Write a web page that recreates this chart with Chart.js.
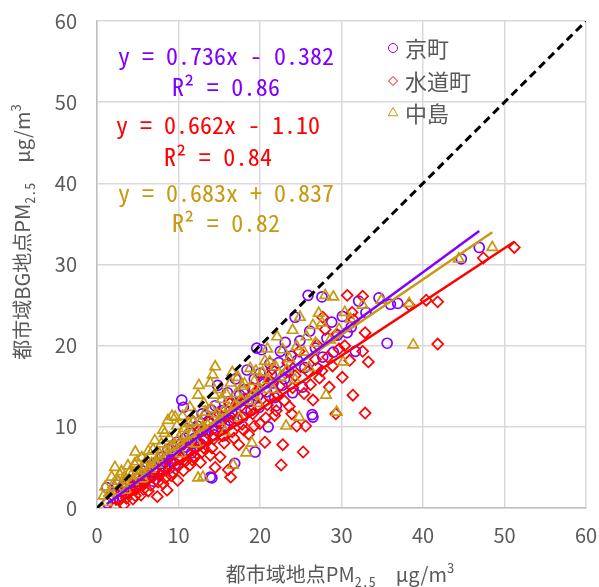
<!DOCTYPE html>
<html><head><meta charset="utf-8">
<script src="https://cdn.jsdelivr.net/npm/chart.js@4.4.1/dist/chart.umd.min.js"></script>
<style>html,body{margin:0;padding:0;background:#fff;}#wrap{width:599px;height:587px;}</style>
</head><body><div id="wrap"><canvas id="c" width="599" height="587"></canvas></div>
<script>
// PM2.5 at urban sites (x) vs. urban background site (y), µg/m³
const seriesNames = ['京町', '水道町', '中島'];
const seriesColors = ['#8000FF', '#FF0000', '#C8980F'];
const seriesStyles = ['circle', 'rectRot', 'triangle'];

const kyomachi = [
  [1.2,2.5],[1.3,0.6],[2.0,1.2],[2.5,2.8],[3.0,1.5],[3.4,2.4],[3.8,3.5],[4.2,2.2],[4.6,3.1],[5.0,4.2],
  [5.3,2.9],[5.8,3.8],[6.1,5.0],[6.5,4.1],[6.9,3.3],[7.2,5.6],[7.6,4.8],[8.0,6.3],[8.3,5.1],[8.7,7.2],
  [9.0,5.8],[9.4,6.7],[9.8,8.1],[10.1,6.2],[10.4,13.3],[10.6,12.4],[10.9,7.5],[11.3,9.2],[11.6,6.8],[12.0,8.6],
  [12.3,10.1],[12.7,7.9],[13.0,9.5],[13.4,11.4],[13.9,3.8],[14.1,3.7],[14.2,9.8],[14.5,12.6],[14.8,15.1],[15.1,10.4],
  [15.5,8.9],[15.8,11.9],[16.0,14.2],[16.3,10.8],[16.9,5.5],[17.1,12.7],[17.5,13.9],[17.9,11.2],[18.4,17.0],[18.6,13.1],
  [19.0,14.8],[19.4,6.9],[19.6,19.7],[19.9,12.4],[20.2,19.5],[20.5,15.3],[21.0,10.0],[21.4,16.4],[21.8,13.6],[22.3,17.9],
  [22.7,15.1],[23.1,20.4],[23.5,16.8],[24.3,23.5],[24.6,18.2],[25.2,14.9],[25.9,26.2],[26.4,11.5],[26.5,11.2],[26.8,19.7],
  [27.6,26.0],[27.7,18.6],[28.8,22.9],[29.5,21.3],[30.7,21.6],[31.7,19.3],[33.0,24.1],[34.6,25.9],[35.6,20.3],[36.0,25.1],
  [36.9,25.2],[44.7,30.7],[46.9,32.1],
  [2.3,1.9],[3.1,2.6],[3.6,1.9],[4.1,3.4],[4.8,2.6],[5.5,4.6],[6.0,3.5],[6.7,5.3],[7.0,4.4],[7.9,5.5],
  [8.5,6.1],[8.9,4.9],[9.2,7.5],[9.6,5.4],[10.3,7.9],[10.8,8.6],[11.1,7.0],[11.5,10.8],[11.9,8.0],[12.5,9.4],
  [12.9,11.6],[13.3,8.5],[13.7,10.6],[14.0,12.1],[14.4,9.0],[14.7,11.3],[15.3,12.0],[15.7,10.2],[16.2,13.1],[16.6,11.6],
  [17.0,15.9],[17.3,10.9],[17.7,13.2],[18.1,14.6],[18.9,12.0],[19.3,15.9],[19.7,13.8],[20.0,16.6],[20.8,14.3],[21.2,17.8],
  [21.6,15.4],[22.0,12.6],[22.5,19.3],[23.0,15.9],[23.8,18.7],[24.0,14.2],[24.9,20.6],[25.5,17.3],[26.1,21.8],[27.0,17.2],
  [28.2,20.9],[29.0,19.2],[30.1,23.6],[31.2,22.3],[32.1,25.5]
];
const suidocho = [
  [2.2,0.1],[2.8,1.0],[3.3,0.4],[3.9,1.8],[4.4,1.1],[4.9,2.4],[5.4,1.6],[5.9,3.2],[6.3,2.1],[6.8,3.8],
  [7.4,1.4],[7.7,4.1],[8.1,3.0],[8.6,2.2],[8.9,5.3],[9.3,4.4],[9.9,3.4],[10.2,5.9],[10.6,4.6],[11.0,7.0],
  [11.4,5.3],[11.9,6.4],[12.3,8.2],[12.7,5.6],[13.1,7.4],[13.5,9.3],[13.9,6.5],[14.3,8.5],[14.5,5.0],[14.8,10.4],
  [15.1,6.3],[15.4,8.9],[15.8,11.2],[16.1,4.7],[16.4,3.8],[16.6,9.4],[17.0,12.0],[17.4,7.8],[17.8,10.3],[18.2,13.4],
  [18.6,9.1],[19.1,11.6],[19.5,14.3],[20.0,10.4],[20.6,8.1],[20.9,12.7],[21.3,15.6],[21.8,11.4],[22.2,13.9],[22.6,5.3],
  [22.8,7.8],[23.1,16.6],[23.6,12.5],[24.0,14.8],[24.5,10.1],[25.0,17.4],[25.3,6.9],[25.6,10.1],[26.2,15.2],[26.8,18.3],
  [27.3,16.0],[27.7,23.5],[28.3,18.6],[28.5,14.9],[29.3,11.6],[29.7,19.6],[30.1,16.1],[30.7,26.2],[31.3,24.1],[31.4,13.9],
  [31.5,23.2],[32.6,26.1],[32.6,19.3],[32.9,21.6],[32.9,11.7],[33.3,18.0],[38.3,25.0],[40.4,25.6],[41.8,25.4],[41.8,20.2],
  [47.4,30.8],[51.2,32.1],
  [3.0,2.0],[3.6,1.2],[4.2,2.6],[4.7,1.5],[5.2,3.3],[5.7,2.3],[6.1,3.9],[6.6,2.8],[7.1,4.6],[7.5,3.2],
  [8.0,5.2],[8.4,3.7],[8.8,6.3],[9.1,4.0],[9.6,6.9],[10.0,5.2],[10.4,7.6],[10.9,5.8],[11.2,8.3],[11.7,5.9],
  [12.1,7.3],[12.5,9.5],[12.9,6.9],[13.3,8.6],[13.7,10.6],[14.1,7.4],[14.6,9.7],[15.0,11.6],[15.6,8.0],[16.0,10.4],
  [16.3,12.9],[16.8,8.6],[17.2,11.0],[17.6,13.1],[18.0,9.6],[18.4,11.9],[18.9,14.9],[19.3,10.1],[19.8,12.6],[20.3,15.7],
  [20.7,11.1],[21.1,13.7],[21.5,17.1],[22.0,12.0],[22.4,15.0],[23.0,13.2],[23.4,17.9],[23.9,11.6],[24.3,16.3],[24.8,19.3],
  [25.4,14.1],[25.9,16.8],[26.5,13.3],[27.0,20.1],[27.6,16.9],[28.0,22.0],[28.9,17.5],[29.4,21.4],[30.4,20.0],[31.0,18.2]
];
const nakajima = [
  [0.8,1.5],[1.2,0.7],[1.8,3.8],[2.2,5.0],[2.5,2.1],[2.8,4.1],[3.2,3.0],[3.6,2.2],[4.0,4.4],[4.4,3.3],
  [4.7,6.9],[4.9,5.7],[5.3,4.6],[5.7,3.6],[6.1,5.9],[6.5,4.8],[6.9,7.2],[7.3,5.4],[7.7,6.6],[8.1,9.6],
  [8.3,9.2],[8.7,10.8],[9.0,7.4],[9.2,11.3],[9.6,11.2],[9.9,8.3],[10.3,6.7],[10.7,9.8],[11.1,8.0],[11.4,12.4],
  [11.8,10.6],[12.2,7.9],[12.4,13.9],[12.4,3.7],[12.5,15.1],[12.9,9.9],[13.0,3.8],[13.3,11.8],[13.9,15.4],[14.2,16.4],
  [14.5,17.4],[14.9,10.7],[15.3,13.4],[15.7,9.4],[16.2,12.3],[16.6,16.7],[16.7,5.3],[17.1,14.1],[17.5,11.1],[17.8,15.0],
  [18.3,6.8],[18.5,13.2],[19.0,8.0],[19.3,15.6],[19.8,12.9],[20.3,16.7],[20.9,19.6],[21.2,18.0],[21.6,14.6],[22.1,21.1],
  [22.5,16.1],[23.2,10.1],[23.6,18.4],[24.0,21.9],[24.3,15.8],[24.8,11.2],[24.9,23.5],[25.4,19.2],[26.0,17.3],[26.5,22.5],
  [27.2,24.0],[28.0,26.2],[28.1,13.9],[28.6,20.7],[29.0,26.0],[29.4,11.8],[30.2,18.0],[30.4,24.1],[32.6,25.0],[34.9,25.6],
  [38.3,25.2],[38.8,20.1],[44.4,30.7],[48.5,32.1],
  [1.0,2.6],[1.5,1.8],[2.0,2.9],[2.6,3.3],[3.0,4.5],[3.4,3.8],[3.8,5.2],[4.2,4.0],[4.6,5.4],[5.1,4.1],
  [5.5,6.2],[5.9,5.1],[6.3,7.0],[6.7,5.5],[7.1,8.3],[7.5,6.1],[7.9,7.9],[8.5,7.1],[8.9,8.6],[9.4,7.6],
  [9.8,10.1],[10.1,8.7],[10.5,11.3],[10.9,8.9],[11.3,10.4],[11.6,9.1],[12.0,11.5],[12.7,10.6],[13.1,12.9],[13.6,10.2],
  [14.0,12.2],[14.4,13.9],[14.7,11.6],[15.1,14.6],[15.5,11.9],[15.9,14.0],[16.4,15.4],[16.9,12.6],[17.3,16.1],[17.7,13.4],
  [18.1,15.3],[18.8,17.2],[19.1,13.9],[19.5,16.9],[20.0,14.6],[20.6,18.1],[21.0,15.8],[21.9,17.4],[22.8,19.5],[23.3,17.0],
  [24.5,19.9],[25.7,21.1],[26.8,20.3],[27.6,22.8],[29.7,22.0],[31.1,23.3]
];

// Linear fits: slope, intercept, R²
const fitSlopes = [0.736, 0.662, 0.683];
const fitIntercepts = [-0.382, -1.10, 0.837];
const fitR2 = ['0.86', '0.84', '0.82'];
const fitLabels = ['y = 0.736x - 0.382', 'y = 0.662x - 1.10', 'y = 0.683x + 0.837'];

const axisTicks = [0, 10, 20, 30, 40, 50, 60];

const seriesData = [kyomachi, suidocho, nakajima];
const toPts = arr => arr.map(p => ({x: p[0], y: p[1]}));

function fitLine(i) {
  const xs = seriesData[i].map(p => p[0]);
  const x0 = Math.min(...xs), x1 = Math.max(...xs);
  return [x0, x1].map(x => ({x, y: fitSlopes[i] * x + fitIntercepts[i]}));
}

const GRAY = '#595959';
const CJK = '"Noto Sans CJK JP", "Noto Sans", sans-serif';
const MONO = '"Noto Sans Mono CJK JP", "Noto Sans CJK JP", monospace';

const datasets = [];
// 1:1 reference line
datasets.push({type: 'line', data: [{x: 0, y: 0}, {x: 60, y: 60}], borderColor: '#000', borderWidth: 3,
  borderDash: [8, 5], pointRadius: 0, order: 0});
// regression lines
[0, 1, 2].forEach(i => datasets.push({type: 'line', data: fitLine(i), borderColor: seriesColors[i],
  borderWidth: 2.5, pointRadius: 0, order: 1 + i}));
// scatter points (中島 on top, then 水道町, then 京町)
const markerRadius = [5, 5.5, 6];
[0, 1, 2].forEach(i => datasets.push({type: 'scatter', label: seriesNames[i], data: toPts(seriesData[i]),
  pointStyle: seriesStyles[i], pointRadius: markerRadius[i], borderColor: seriesColors[i],
  backgroundColor: 'rgba(0,0,0,0)', pointBorderWidth: 1.7, order: 6 - i}));

function fitSpacing(ctx, text, pitch) {
  ctx.letterSpacing = '0px';
  const w = ctx.measureText(text).width;
  const n = [...text].length;
  return (n * pitch - w) / n;
}

function drawRich(ctx, parts, cx, cy) {
  let total = 0;
  parts.forEach(p => { ctx.font = p.size + 'px ' + (p.family || CJK); p.w = ctx.measureText(p.t).width; total += p.w + (p.gap || 0); });
  let x = cx - total / 2;
  parts.forEach(p => {
    ctx.font = p.size + 'px ' + (p.family || CJK);
    ctx.fillText(p.t, x, cy + (p.dy || 0));
    x += p.w + (p.gap || 0);
  });
}

const annotations = {
  id: 'annotations',
  afterDraw(chart) {
    const ctx = chart.ctx;
    ctx.save();
    // regression equations
    const eqCenters = [226, 218, 226];
    const eqRows = [[56, 87], [125, 157], [193, 223]];
    ctx.textAlign = 'center';
    ctx.textBaseline = 'middle';
    for (let i = 0; i < 3; i++) {
      ctx.fillStyle = seriesColors[i];
      ctx.font = '24px ' + MONO;
      const lines = [fitLabels[i], 'R² = ' + fitR2[i]];
      lines.forEach((t, k) => {
        const ls = fitSpacing(ctx, t, 12);
        ctx.letterSpacing = ls + 'px';
        ctx.fillText(t, eqCenters[i] + ls / 2, eqRows[i][k]);
      });
    }
    ctx.letterSpacing = '0px';

    // legend
    const legendRows = [48, 81, 113];
    for (let i = 0; i < 3; i++) {
      ctx.strokeStyle = seriesColors[i];
      ctx.fillStyle = 'rgba(0,0,0,0)';
      Chart.helpers.drawPoint(ctx, {pointStyle: seriesStyles[i], radius: i === 2 ? 5.5 : 4.5, rotation: 0, borderWidth: 2}, 393, legendRows[i]);
      ctx.fillStyle = GRAY;
      ctx.textAlign = 'left';
      ctx.font = '22px ' + CJK;
      ctx.fillText(seriesNames[i], 405, legendRows[i] + 1);
    }

    // axis titles
    ctx.fillStyle = GRAY;
    ctx.textAlign = 'left';
    ctx.textBaseline = 'alphabetic';
    const title = (lead) => [
      {t: lead, size: 20},
      {t: '2.5', size: 14, dy: 5, gap: 20, family: MONO},
      {t: 'μg/m', size: 20},
      {t: '3', size: 13, dy: -9}
    ];
    drawRich(ctx, title('都市域地点PM'), 340, 582);
    ctx.translate(30, 232);
    ctx.rotate(-Math.PI / 2);
    drawRich(ctx, title('都市域BG地点PM'), 0, 0);
    ctx.restore();
  }
};

const scaleBase = (fit) => ({
  type: 'linear', min: 0, max: 60,
  afterBuildTicks(s) { s.ticks = axisTicks.map(v => ({value: v})); },
  ticks: {color: GRAY, font: {size: 20, family: CJK}, padding: 0},
  grid: {color: '#d9d9d9', lineWidth: 1.5, drawTicks: false},
  border: {color: '#bfbfbf', width: 1.5},
  afterFit: fit
});

// fixed axis band sizes; edge overflow is handled by the layout padding
const xScale = scaleBase(s => { s.height = 79; s.paddingLeft = 0; s.paddingRight = 0; });
xScale.ticks.padding = 15;
const yScale = scaleBase(s => { s.width = 97; s.paddingTop = 0; s.paddingBottom = 0; });
yScale.ticks.padding = 20;

new Chart(document.getElementById('c'), {
  type: 'scatter',
  data: {datasets},
  options: {
    responsive: false, animation: false, devicePixelRatio: 1,
    layout: {padding: {top: 21, right: 13, left: 0, bottom: 0}},
    plugins: {legend: {display: false}, tooltip: {enabled: false}},
    scales: {x: xScale, y: yScale}
  },
  plugins: [annotations]
});
</script></body></html>
